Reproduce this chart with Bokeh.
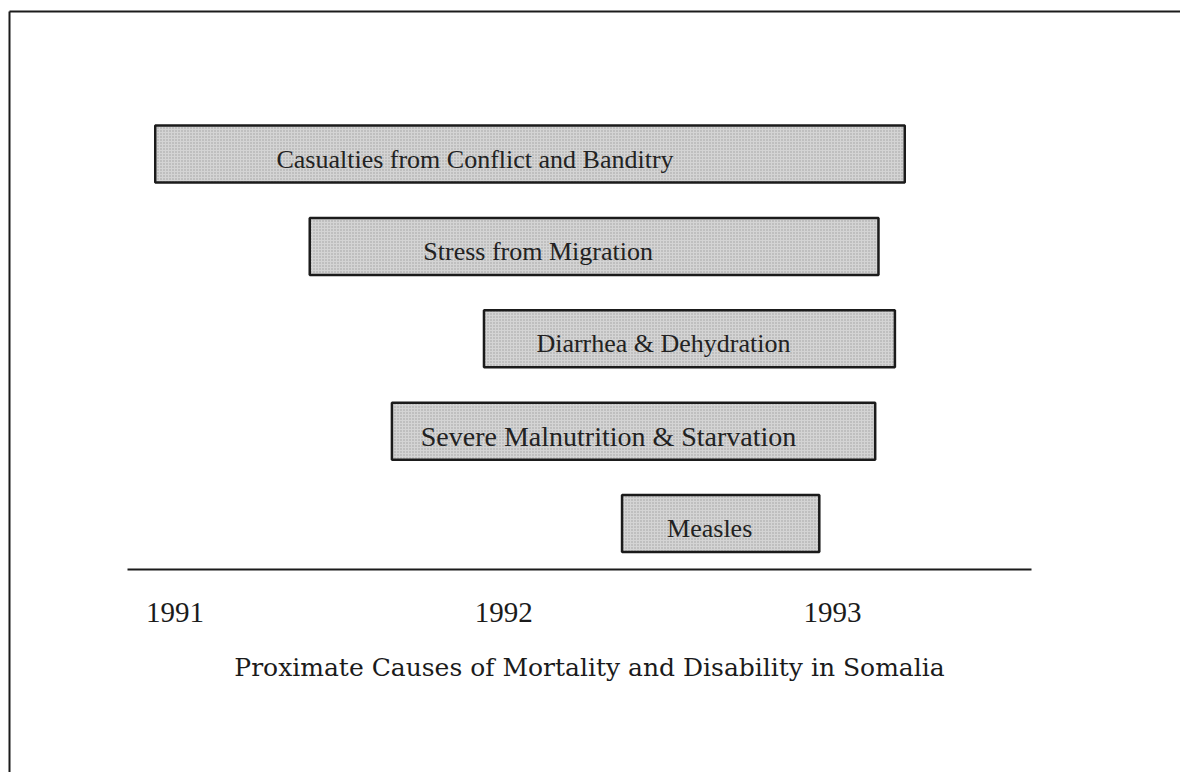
from bokeh.plotting import figure
from bokeh.models import Range1d, LinearAxis, FixedTicker, Label, ColumnDataSource
from bokeh.embed import file_html
from bokeh.resources import INLINE
from bokeh.core.properties import value

# ---------------- data ----------------
causes = [
    "Casualties from Conflict and Banditry",
    "Stress from Migration",
    "Diarrhea & Dehydration",
    "Severe Malnutrition & Starvation",
    "Measles",
]
start_year = [1990.94, 1991.41, 1991.94, 1991.66, 1992.36]
end_year = [1993.22, 1993.14, 1993.19, 1993.13, 1992.96]
tick_years = [1991, 1992, 1993]
title_text = "Proximate Causes of Mortality and Disability in Somalia"

# ---------------- layout / style (pixels, page coordinates) ----------------
FIG_W, FIG_H = 1180, 772
PX_PER_YEAR = 328.75
X1992 = 503.2
FRAME_LEFT, FRAME_TOP = 9, 11
FRAME_RIGHT, FRAME_BOTTOM = FIG_W, FIG_H
ROW0, ROW_STEP = 153.5, 92.4
AXIS_LEFT, AXIS_RIGHT = 127, 1031
label_dx_px = [-55, -56, -26, -25, -11]
label_size = ["26px", "26px", "26px", "28px", "26px"]

def px_to_year(px):
    return 1992 + (px - X1992) / PX_PER_YEAR

rows = list(range(len(causes)))
mid = [(s + e) / 2 for s, e in zip(start_year, end_year)]
src = ColumnDataSource(dict(cause=causes, row=rows, start=start_year,
                            end=end_year, mid=mid, dx=label_dx_px, fs=label_size))

x_range = Range1d(px_to_year(FRAME_LEFT), px_to_year(FRAME_RIGHT))
y_range = Range1d((FRAME_BOTTOM - ROW0) / ROW_STEP, (FRAME_TOP - ROW0) / ROW_STEP)

p = figure(width=FIG_W, height=FIG_H, x_range=x_range, y_range=y_range,
           x_axis_type=None, y_axis_type=None, toolbar_location=None,
           output_backend="svg", min_border_left=FRAME_LEFT, min_border_top=FRAME_TOP,
           min_border_right=0, min_border_bottom=0)
p.outline_line_color = None
p.background_fill_color = "white"
p.border_fill_color = "white"
p.xgrid.visible = False
p.ygrid.visible = False

INK = "#1b1b1b"

# frame lines (top and left) as bare axes
top_axis = LinearAxis(ticker=FixedTicker(ticks=[]), axis_line_color=INK, axis_line_width=2,
                      major_tick_line_color=None, minor_tick_line_color=None,
                      major_tick_out=0, minor_tick_out=0, major_label_standoff=0)
left_axis = LinearAxis(ticker=FixedTicker(ticks=[]), axis_line_color=INK, axis_line_width=2,
                       major_tick_line_color=None, minor_tick_line_color=None,
                       major_tick_out=0, minor_tick_out=0, major_label_standoff=0)
p.add_layout(top_axis, "above")
p.add_layout(left_axis, "left")

# time axis
xaxis = LinearAxis(ticker=FixedTicker(ticks=tick_years),
                   fixed_location=len(causes) - 0.5,
                   bounds=(px_to_year(AXIS_LEFT), px_to_year(AXIS_RIGHT)),
                   axis_line_color=INK, axis_line_width=2,
                   major_tick_line_color=None, minor_tick_line_color=None,
                   major_tick_out=0, minor_tick_out=0,
                   major_label_standoff=33,
                   major_label_text_font="Liberation Serif",
                   major_label_text_font_size="29px",
                   major_label_text_color=INK)
p.add_layout(xaxis, "below")

# bars
p.hbar(y="row", left="start", right="end", height=0.617, source=src,
       fill_color="#d4d4d4", line_color=INK, line_width=2.5,
       hatch_pattern="dot", hatch_color="#a0a0a0", hatch_scale=3, hatch_weight=1)

# bar labels
p.text(x="mid", y="row", text="cause", x_offset="dx", y_offset=5, source=src,
       text_align="center", text_baseline="middle",
       text_font=value("Liberation Serif"), text_font_size="fs", text_color="#222222")

# caption
p.add_layout(Label(x=589 - FRAME_LEFT, y=FRAME_BOTTOM - 667, x_units="screen", y_units="screen",
                   text=title_text, text_align="center", text_baseline="alphabetic",
                   text_font="DejaVu Serif", text_font_size="25px", text_color=INK))

open("out.html", "w").write(file_html(p, INLINE))
